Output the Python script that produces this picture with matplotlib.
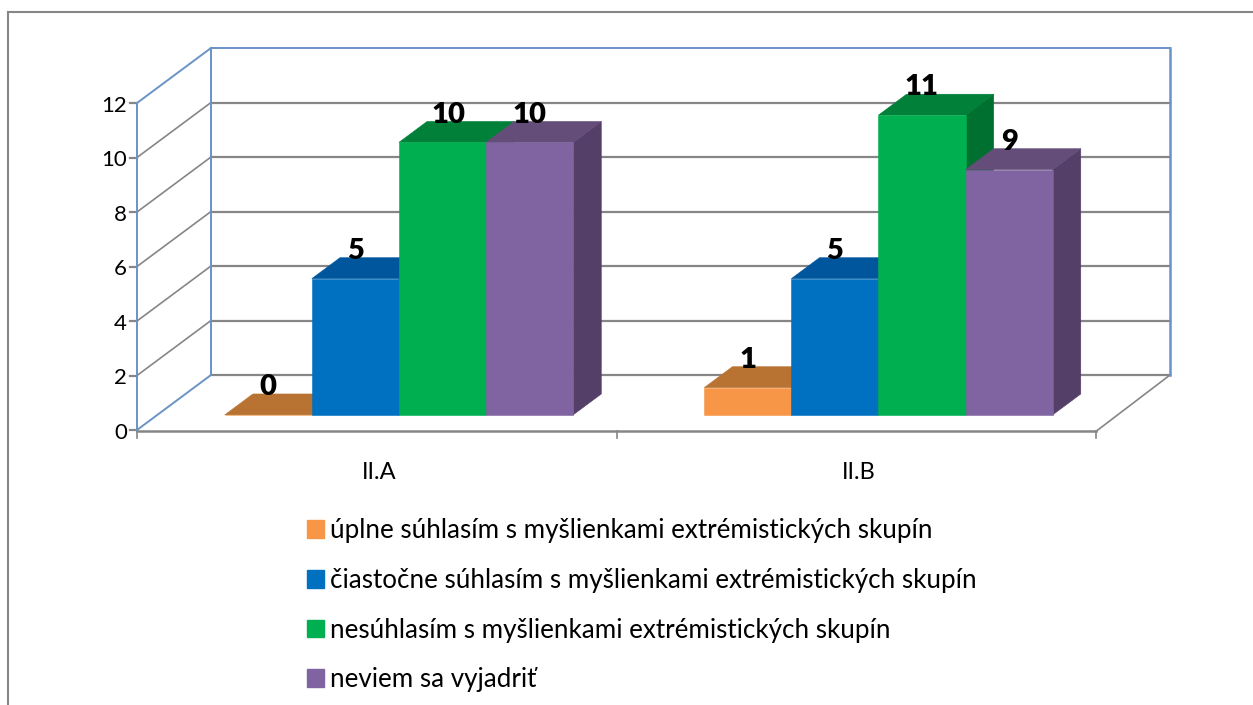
import matplotlib
matplotlib.use("Agg")
import matplotlib.pyplot as plt
from matplotlib.patches import Polygon, Patch

plt.rcParams['font.family'] = ['Lato', 'DejaVu Sans']

categories = ['II.A', 'II.B']
series_names = ['úplne súhlasím s myšlienkami extrémistických skupín',
                'čiastočne súhlasím s myšlienkami extrémistických skupín',
                'nesúhlasím s myšlienkami extrémistických skupín',
                'neviem sa vyjadriť']
values_uplne = [0, 1]
values_ciastocne = [5, 5]
values_nesuhlasim = [10, 11]
values_neviem = [10, 9]
all_values = [values_uplne, values_ciastocne, values_nesuhlasim, values_neviem]
y_ticks = [0, 2, 4, 6, 8, 10, 12]

front = ['#F79646', '#0070C0', '#00B050', '#8064A2']
top = ['#B87333', '#00569C', '#008038', '#644D79']
side = ['#A8652C', '#004F8C', '#007030', '#533F68']
BLUE = '#6A93C6'
GREY = '#868686'

W, H = 1253, 705
fig = plt.figure(figsize=(W / 100, H / 100), dpi=100, facecolor='white')
L, R, T, B = 137, 1096, 103, 430
ax = fig.add_axes([L / W, 1 - B / H, (R - L) / W, (B - T) / H])
ax.set_xlim(0, 2)
ax.set_ylim(0, 12)
ax.axis('off')

px_x = (R - L) / 2
px_y = (B - T) / 12
DX, DY = 74 / px_x, 55 / px_y


def P(x, v, d=0.0):
    return (x + d * DX, v + d * DY)


def line(a, b, color, lw=1.5, z=1):
    ax.plot([a[0], b[0]], [a[1], b[1]], color=color, lw=lw, clip_on=False,
            zorder=z, solid_capstyle='projecting')


# walls
for v in y_ticks[1:-1]:
    line(P(0, v), P(0, v, 1), GREY, 1.2)
    line(P(0, v, 1), P(2, v, 1), GREY, 1.6)
    line(P(0, v), (-7 / px_x, v), GREY, 1.6)
line(P(0, 12), (-7 / px_x, 12), GREY, 1.6)
line(P(0, 0), (-7 / px_x, 0), GREY, 1.6)
line(P(0, 0, 1), P(2, 0, 1), GREY, 1.6)
line((0, -0.05), (2, -0.05), GREY, 1.8)
line(P(2, -0.05), P(2, 0, 1), GREY, 1.2)
for x in [0, 1, 2]:
    line((x, -0.05), (x, -0.3), GREY, 1.2)
line(P(0, 0), P(0, 12), BLUE, 1.4, 2)
line(P(0, 0), P(0, 0, 1), BLUE, 1.4, 2)
line(P(0, 12), P(0, 12, 1), BLUE, 1.4, 2)
line(P(0, 0, 1), P(0, 12, 1), BLUE, 1.4, 2)
line(P(0, 12, 1), P(2, 12, 1), BLUE, 1.4, 2)
line(P(2, 0, 1), P(2, 12, 1), BLUE, 1.8, 2)

# bars
bw = 87.1 / px_x
start = 67.4 / px_x
d0, d1 = 0.275, 0.655
label_shift_px = [[0, 0, 6, 0], [0, 0, 0, 0]]
z = 3
for c in range(2):
    for s, vals in enumerate(all_values):
        v = vals[c]
        x0 = c + start + s * bw
        x1 = x0 + bw
        ax.add_patch(Polygon([P(x1, 0, d0), P(x1, 0, d1), P(x1, v, d1), P(x1, v, d0)],
                             fc=side[s], ec=side[s], lw=0.4, clip_on=False, zorder=z))
        ax.add_patch(Polygon([P(x0, v, d0), P(x1, v, d0), P(x1, v, d1), P(x0, v, d1)],
                             fc=top[s], ec=top[s], lw=0.4, clip_on=False, zorder=z + 0.1))
        ax.add_patch(Polygon([P(x0, 0, d0), P(x1, 0, d0), P(x1, v, d0), P(x0, v, d0)],
                             fc=front[s], ec=front[s], lw=0.4, clip_on=False, zorder=z + 0.2))
        z += 1
        cx, cy = P((x0 + x1) / 2, v, d0)
        ax.text(cx + label_shift_px[c][s] / px_x, cy + 1.11, str(v), ha='center',
                va='center_baseline', fontsize=21, fontweight='heavy', color='black',
                zorder=50, clip_on=False)

# axis labels
for v in y_ticks:
    ax.text(-10 / px_x, v - 0.03, str(v), ha='right', va='center_baseline', fontsize=16, color='black')
for i, cat in enumerate(categories):
    ax.text(i + 0.505, -1.48, cat, ha='center', va='center_baseline', fontsize=17, color='black')

# legend
handles = [Patch(fc=c, ec=c) for c in front]
fig.legend(handles, series_names, loc='upper left', bbox_to_anchor=(299 / W, 1 - 510.5 / H),
           frameon=False, fontsize=18.7, labelspacing=0.95, handlelength=0.66,
           handleheight=0.66, handletextpad=0.23, borderpad=0.3, borderaxespad=0)

# outer frame
fig.add_artist(plt.Line2D([8 / W, 8 / W], [0, 1 - 12 / H], color=GREY, lw=1.5))
fig.add_artist(plt.Line2D([8 / W, 1], [1 - 12 / H, 1 - 12 / H], color=GREY, lw=1.5))

fig.savefig('out.png', dpi=100)
